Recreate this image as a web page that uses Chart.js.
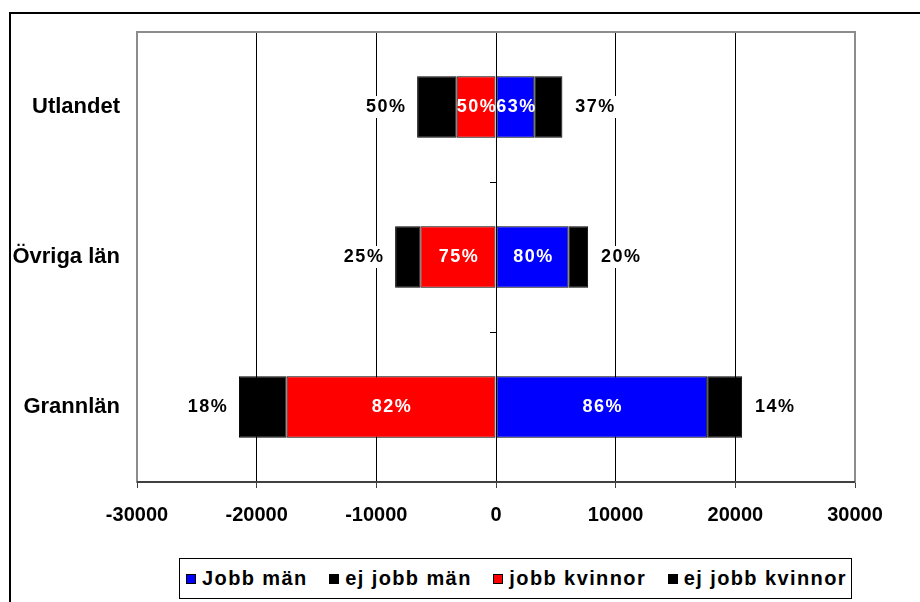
<!DOCTYPE html>
<html lang="sv">
<head>
  <meta charset="UTF-8">
  <title>Jobb per område</title>
  <script src="https://cdn.jsdelivr.net/npm/chart.js"></script>
  <style>
    body { margin: 0; background: #fff; overflow: hidden; }
    .wrap { position: relative; width: 920px; height: 602px; }
    .ram { position: absolute; left: 9px; top: 12px; width: 1000px; height: 1000px; border-left: 2px solid #000; border-top: 2px solid #000; }
    canvas { position: absolute; left: 0; top: 0; }
    .legend {
      position: absolute; left: 179px; top: 558px; width: 673px; height: 41px;
      border: 1px solid #000; background: #fff; box-sizing: border-box;
      display: flex; align-items: center; justify-content: space-between; padding: 0 4px 0 6px;
      font: bold 20px "Liberation Sans", Arial, sans-serif; letter-spacing: 1.4px;
    }
    .legend .item { display: flex; align-items: center; white-space: nowrap; }
    .legend .box { width: 8px; height: 8px; border: 1px solid #000; margin-right: 6px; }
  </style>
</head>
<body>

<div class="wrap">
  <div class="ram"></div>
  <canvas id="grafik" width="920" height="602"></canvas>
  <div class="legend" id="legend"></div>
</div>

<script>
  // data
  const omraden = ['Utlandet', 'Övriga län', 'Grannlän'];
  const jobbMan = [3200, 6050, 17650];
  const ejJobbMan = [2350, 1650, 2920];
  const jobbKvinnor = [-3290, -6320, -17500];
  const ejJobbKvinnor = [-3300, -2110, -3980];

  // procenttexter på staplarna
  const pctJobbMan = ['63%', '80%', '86%'];
  const pctEjJobbMan = ['37%', '20%', '14%'];
  const pctJobbKvinnor = ['50%', '75%', '82%'];
  const pctEjJobbKvinnor = ['50%', '25%', '18%'];

  const xTicks = [-30000, -20000, -10000, 0, 10000, 20000, 30000];

  const serier = [
    { label: 'Jobb män', data: jobbMan, color: '#0000ff', pct: pctJobbMan, inne: true },
    { label: 'ej jobb män', data: ejJobbMan, color: '#000000', pct: pctEjJobbMan, inne: false },
    { label: 'jobb kvinnor', data: jobbKvinnor, color: '#ff0000', pct: pctJobbKvinnor, inne: true },
    { label: 'ej jobb kvinnor', data: ejJobbKvinnor, color: '#000000', pct: pctEjJobbKvinnor, inne: false }
  ];

  const fontFam = '"Liberation Sans", Arial, sans-serif';

  // ram runt ritytan + små streck på nollaxeln
  const ramPlugin = {
    id: 'ram',
    beforeDatasetsDraw(chart) {
      const ctx = chart.ctx;
      const a = chart.chartArea;
      const x0 = chart.scales.x.getPixelForValue(0);
      const y = chart.scales.y;
      ctx.save();
      ctx.strokeStyle = '#000';
      ctx.lineWidth = 1;
      for (let i = 0; i < omraden.length - 1; i++) {
        const yy = Math.round((y.getPixelForValue(i) + y.getPixelForValue(i + 1)) / 2) + 0.5;
        ctx.beginPath();
        ctx.moveTo(x0 - 6, yy);
        ctx.lineTo(x0, yy);
        ctx.stroke();
      }
      ctx.strokeStyle = '#8c8c8c';
      ctx.lineWidth = 2;
      ctx.strokeRect(a.left, a.top, a.right - a.left, a.bottom - a.top);
      ctx.strokeStyle = '#404040';
      ctx.beginPath();
      ctx.moveTo(a.left, a.bottom);
      ctx.lineTo(a.right, a.bottom);
      ctx.stroke();
      ctx.restore();
    }
  };

  // procentetiketter
  const etikettPlugin = {
    id: 'etiketter',
    afterDatasetsDraw(chart) {
      const ctx = chart.ctx;
      ctx.save();
      ctx.font = 'bold 18px ' + fontFam;
      ctx.letterSpacing = '1.5px';
      ctx.textBaseline = 'middle';
      ctx.textAlign = 'center';
      serier.forEach((s, di) => {
        const meta = chart.getDatasetMeta(di);
        meta.data.forEach((bar, i) => {
          const txt = s.pct[i];
          if (s.inne) {
            ctx.fillStyle = '#fff';
            ctx.fillText(txt, (bar.x + bar.base) / 2 + 1, bar.y);
          } else {
            const dir = s.data[i] < 0 ? -1 : 1;
            const cx = bar.x + dir * 32;
            const w = ctx.measureText(txt).width;
            ctx.fillStyle = '#fff';
            ctx.fillRect(cx - w / 2 - 2, bar.y - 11, w + 4, 22);
            ctx.fillStyle = '#000';
            ctx.fillText(txt, cx + 1, bar.y);
          }
        });
      });
      ctx.restore();
    }
  };

  const ctx = document.getElementById('grafik').getContext('2d');
  new Chart(ctx, {
    type: 'bar',
    data: {
      labels: omraden,
      datasets: serier.map(s => ({
        label: s.label,
        data: s.data,
        backgroundColor: s.color,
        borderColor: '#000',
        borderWidth: 1,
        borderSkipped: false,
        categoryPercentage: 0.41,
        barPercentage: 1
      }))
    },
    options: {
      indexAxis: 'y',
      responsive: false,
      animation: false,
      layout: { padding: { top: 32, right: 65, bottom: 0, left: 0 } },
      plugins: {
        legend: { display: false },
        tooltip: { enabled: false }
      },
      scales: {
        x: {
          stacked: true,
          min: -30000,
          max: 30000,
          afterBuildTicks(axis) { axis.ticks = xTicks.map(v => ({ value: v })); },
          afterFit(axis) { axis.height = 120; },
          grid: {
            color: c => (c.tick && Math.abs(c.tick.value) === 30000) ? '#8c8c8c' : '#000',
            lineWidth: 1,
            tickLength: 6,
            tickColor: '#404040'
          },
          border: { display: false },
          ticks: {
            color: '#000',
            padding: 15,
            maxRotation: 0,
            callback: v => String(v),
            font: { family: fontFam, size: 20, weight: 'bold' }
          }
        },
        y: {
          stacked: true,
          afterFit(axis) { axis.width = 137; },
          grid: { display: false, drawTicks: false },
          border: { display: false },
          ticks: {
            color: '#000',
            padding: 17,
            font: { family: fontFam, size: 22, weight: 'bold' }
          }
        }
      }
    },
    plugins: [ramPlugin, etikettPlugin]
  });

  // legend i ruta under diagrammet
  const legend = document.getElementById('legend');
  serier.forEach(s => {
    const item = document.createElement('div');
    item.className = 'item';
    item.innerHTML = `<span class="box" style="background:${s.color}"></span>${s.label}`;
    legend.appendChild(item);
  });
</script>

</body>
</html>
